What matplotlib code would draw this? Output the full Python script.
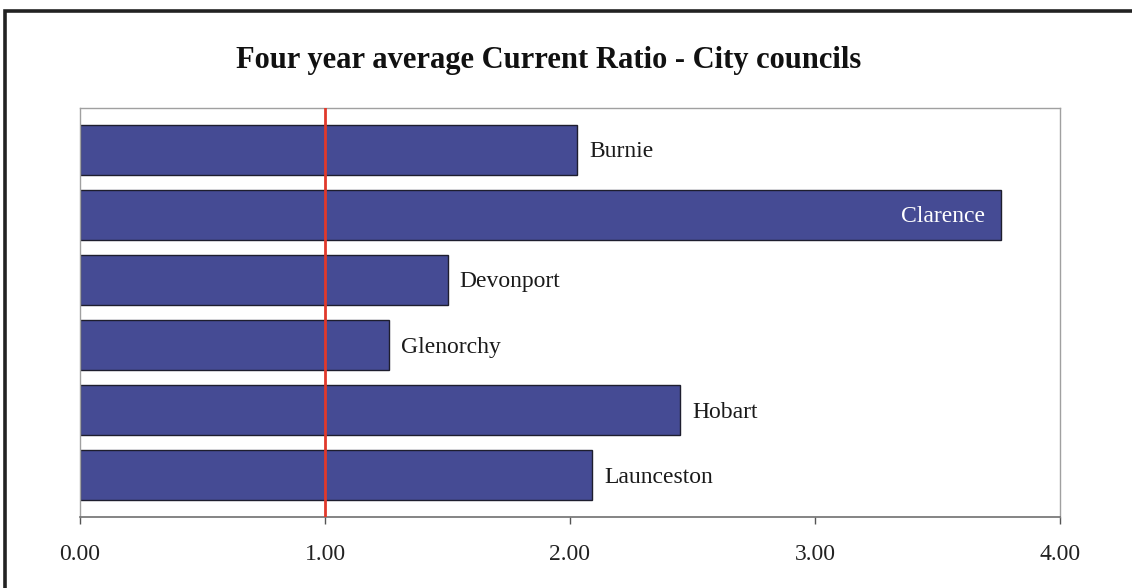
import matplotlib
matplotlib.use("Agg")
import matplotlib.pyplot as plt
from matplotlib.patches import Rectangle
import numpy as np

# Four year average current ratio by council
COUNCILS = ["Burnie", "Clarence", "Devonport", "Glenorchy", "Hobart", "Launceston"]
RATIOS = [2.03, 3.76, 1.50, 1.26, 2.45, 2.09]
X_TICKS = [0.0, 1.0, 2.0, 3.0, 4.0]
THRESHOLD = 1.0

BAR_COLOR = "#454B94"
LINE_COLOR = "#E0392B"
FONT = ["Liberation Serif", "DejaVu Serif"]

W, H = 1132, 588
fig = plt.figure(figsize=(W / 100, H / 100), dpi=100)
fig.patch.set_facecolor("white")

# outer chart frame (runs off the right and bottom edges)
fig.patches.append(Rectangle((5 / W, -0.05), 1.2, 1 - 11 / H + 0.05,
                             transform=fig.transFigure, fill=False,
                             edgecolor="#222222", linewidth=2.6, zorder=0))

ax = fig.add_axes([80 / W, 1 - 516.7 / H, 980 / W, (516.7 - 108.3) / H])

y = np.arange(len(COUNCILS))
bars = ax.barh(y, RATIOS, height=0.77, color=BAR_COLOR, edgecolor="#1e1e2e",
               linewidth=1.0, zorder=2)

ax.axvline(THRESHOLD, color=LINE_COLOR, linewidth=2.0, zorder=3)

# name labels: inside the bar when it runs near the right edge
for yi, name, val in zip(y, COUNCILS, RATIOS):
    inside = val > 3.3
    ax.annotate(name, xy=(val, yi), xytext=(-16 if inside else 12, -7.5),
                textcoords="offset pixels", ha="right" if inside else "left",
                va="baseline", color="white" if inside else "#1a1a1a",
                fontsize=17, family=FONT, zorder=4)

ax.set_xlim(0, 4)
ax.set_ylim(5.64, -0.64)
ax.set_yticks([])
ax.set_xticks(X_TICKS)
ax.set_xticklabels([f"{t:.2f}" for t in X_TICKS], fontsize=17, family=FONT,
                   color="#222222")
ax.tick_params(axis="x", direction="out", length=5, width=1.0,
               color="#555555", pad=15)

for side in ("top", "right", "left"):
    ax.spines[side].set_color("#a0a0a0")
    ax.spines[side].set_linewidth(1.0)
ax.spines["bottom"].set_color("#707070")
ax.spines["bottom"].set_linewidth(1.2)

fig.text(548.5 / W, 1 - 68 / H, "Four year average Current Ratio - City councils",
         ha="center", va="baseline", fontsize=22, fontweight="bold", family=FONT,
         color="#111111")

fig.savefig("out.png", dpi=100, facecolor="white")
